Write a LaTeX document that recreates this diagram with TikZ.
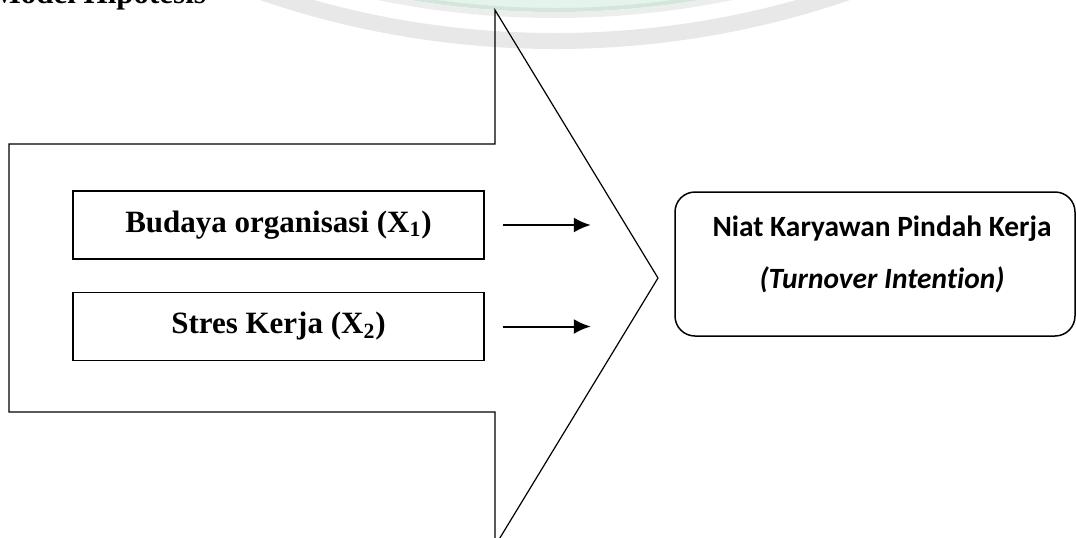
\documentclass[tikz,border=0pt]{standalone}
\usepackage{fontspec}
\setmainfont{Liberation Serif}
\newfontfamily\calibri[Ligatures=NoCommon]{Carlito}
\usetikzlibrary{positioning}
\usetikzlibrary{arrows.meta}

\definecolor{wmgray}{RGB}{232,232,232}
\definecolor{wmlight}{RGB}{236,238,237}
\definecolor{wmgreen}{RGB}{228,243,235}
\definecolor{wmgreenline}{RGB}{212,230,220}

\begin{document}
\begin{tikzpicture}[
      x = 0.5pt, y = -0.5pt,
      >={Latex[length=8.5pt,width=7.5pt]},
      node distance = 16pt,
      factor/.style = {
        draw = black, line width = 0.75pt,
        minimum width = 205.5pt, minimum height = 34pt,
        font = \fontsize{15.5}{18}\selectfont\bfseries
      },
      outcome/.style = {
        draw = black, line width = 0.75pt, rounded corners = 10pt,
        minimum width = 200pt, minimum height = 72pt
      },
      outcometext/.style = {
        align = center,
        font = \calibri\fontsize{14.7}{26}\selectfont\bfseries
      },
      link/.style = { ->, line width = 1pt },
    ]
    \useasboundingbox (0,0) rectangle (1076,537);
    \clip (0,0) rectangle (1076,537);

    % watermark rings
    \fill[wmgreen] (555,-859) circle[radius=434.5pt];
    \draw[wmgreenline, line width=2pt] (555,-859) circle[radius=434.5pt];
    \draw[wmlight, line width=3pt] (555,-859) circle[radius=437pt];
    \draw[wmgray, line width=8pt] (555,-859) circle[radius=450pt];

    \node[anchor = base east, font = \fontsize{15.5}{18}\selectfont\bfseries]
      (title) at (213,3) {Model Hipotesis};

    % big arrow
    \draw[line width = 0.6pt] (9,144) -- (495,144) -- (495,10) -- (658,278)
      -- (495,546) -- (495,412) -- (9,412) -- cycle;

    \node[factor] (budaya) at (278.5,225) {Budaya organisasi (X\textsubscript{1})};
    \node[factor, below = of budaya] (stres) {Stres Kerja (X\textsubscript{2})};

    \coordinate[right = 9pt of budaya] (budaya-out);
    \coordinate[right = 44pt of budaya-out] (budaya-in);
    \coordinate[right = 9pt of stres] (stres-out);
    \coordinate[right = 44pt of stres-out] (stres-in);
    \draw[link] (budaya-out) -- (budaya-in);
    \draw[link] (stres-out) -- (stres-in);

    \node[outcome] (niat) at (875,264) {};
    \node[outcometext] (niat-label) at (882,254)
      {Niat Karyawan Pindah Kerja\\ \textit{(Turnover Intention)}};
  \end{tikzpicture}
\end{document}
